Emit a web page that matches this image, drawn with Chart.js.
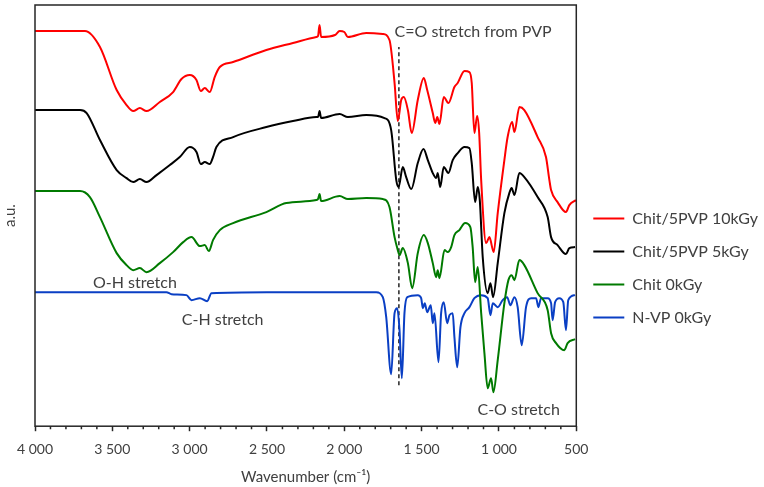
<!DOCTYPE html>
<html>
<head>
<meta charset="utf-8">
<script src="https://cdn.jsdelivr.net/npm/chart.js@4.4.1/dist/chart.umd.min.js"></script>
<style>
  html, body { margin: 0; padding: 0; background: #fff; }
</style>
</head>
<body>
<canvas id="ftirChart" width="764" height="487"></canvas>
<script>
// Series names (legend order)
const seriesNames = ['Chit/5PVP 10kGy', 'Chit/5PVP 5kGy', 'Chit 0kGy', 'N-VP 0kGy'];

// Chit/5PVP 10kGy
const redWn = [4000,3677,3580,3472,3408,3365,3322,3279,3193,3107,3053,2999,2956,2928,2902,2870,2838,2805,2719,2504,2332,2181,2170,2160,2150,2060,2030,2000,1977,1858,1751,1708,1675,1654,1632,1615,1589,1564,1525,1486,1464,1428,1412,1399,1385,1357,1327,1288,1267,1223,1191,1176,1159,1141,1128,1115,1083,1062,1034,1008,965,944,915,900,868,836,750,696,674,663,621,567,545,502];
const redVal = [395,395,379,336,321,315,318,315,324,334,347,351,346,335,338,334,349,359,364,376,383,389,390,401,389,391,395,394,389,393,392,386,343,305,326,329,316,293,326,348,336,313,303,309,302,329,323,339,343,355,354,343,293,310,293,246,183,189,174,213,266,289,304,294,319,316,289,269,246,236,224,214,221,226];

// Chit/5PVP 5kGy
const blackWn = [4000,3709,3666,3580,3472,3408,3365,3322,3279,3214,3128,3064,2999,2956,2928,2902,2870,2849,2827,2719,2504,2332,2181,2170,2160,2150,2030,1977,1858,1740,1697,1664,1649,1622,1600,1567,1525,1488,1460,1428,1406,1396,1380,1357,1327,1299,1267,1223,1191,1176,1154,1137,1124,1105,1073,1055,1038,1008,965,933,918,900,868,836,750,685,663,621,567,545,508];
const blackVal = [316,316,313,286,256,248,244,247,244,251,261,269,279,274,262,264,262,269,279,289,299,305,309,309,315,308,312,309,311,308,296,246,239,259,249,237,263,277,266,253,248,253,239,259,253,266,273,279,278,263,224,239,226,169,133,143,129,163,213,233,238,231,253,249,229,209,189,181,172,178,179];

// Chit 0kGy
const greenWn = [4000,3709,3645,3580,3472,3408,3365,3322,3279,3193,3107,3042,2988,2934,2902,2876,2849,2805,2719,2504,2375,2181,2170,2160,2150,2030,1977,1858,1751,1708,1675,1654,1643,1622,1589,1561,1525,1486,1460,1428,1406,1396,1385,1352,1331,1309,1288,1256,1219,1185,1170,1154,1137,1115,1094,1073,1051,1036,1008,965,939,918,900,868,836,750,685,663,631,578,556,508];
const greenVal = [235,235,229,209,173,161,156,158,154,163,174,184,189,180,181,175,186,196,203,214,223,226,227,232,225,230,227,228,227,219,189,176,171,178,163,138,173,191,183,163,149,156,148,176,174,179,191,196,203,199,179,144,159,113,73,38,48,34,66,123,146,151,146,166,161,133,116,93,83,76,83,87];

// N-VP 0kGy
const blueWn = [4000,3150,3117,3021,2988,2934,2887,2859,2500,1793,1751,1729,1697,1675,1658,1643,1628,1611,1593,1525,1503,1492,1480,1464,1441,1428,1417,1391,1374,1357,1335,1320,1299,1288,1270,1249,1223,1191,1159,1115,1073,1055,1040,1008,976,947,926,900,879,853,825,792,760,745,728,685,663,653,637,610,584,567,552,508];
const blueVal = [134,134,132,131,126,128,125,133,134,134,129,109,52,113,118,96,48,113,129,131,128,118,123,114,121,103,113,64,113,124,103,111,113,89,59,99,113,119,128,131,128,111,123,119,126,129,121,129,119,81,119,128,128,119,128,128,123,106,124,128,124,96,126,131];

// dashed marker for C=O band
const coWn = [1647, 1647];
const coVal = [41, 379];

// band labels
const annoText = ['C=O stretch from PVP', 'O-H stretch', 'C-H stretch', 'C-O stretch'];
const annoWn = [1675, 3625, 3051, 1139];
const annoVal = [394, 143, 106, 16];

const xTicks = { min: 500, max: 4000, major: 500, minor: 100 };
const colors = ['#ff0000', '#000000', '#007a00', '#0a3fc4'];
const textColor = '#404040';
const frameColor = '#262626';
const fontFamily = 'Lato, "Open Sans", sans-serif';

function toPoints(xs, ys) {
    return xs.map((x, i) => ({ x: x, y: ys[i] }));
}

function formatWn(v) {
    if (v >= 1000) {
        return Math.floor(v / 1000) + ' ' + String(v % 1000).padStart(3, '0');
    }
    return String(v);
}

// box round the plot + small ticks every 100
const framePlugin = {
    id: 'frame',
    afterDraw(chart) {
        const { ctx, chartArea: a, scales } = chart;
        ctx.save();
        ctx.strokeStyle = frameColor;
        ctx.lineWidth = 1.5;
        ctx.strokeRect(a.left, a.top, a.right - a.left, a.bottom - a.top);
        ctx.beginPath();
        for (let v = xTicks.min; v <= xTicks.max; v += xTicks.minor) {
            if (v % xTicks.major === 0) continue;
            const px = scales.x.getPixelForValue(v);
            ctx.moveTo(px, a.bottom);
            ctx.lineTo(px, a.bottom + 3);
        }
        ctx.stroke();
        ctx.restore();
    }
};

const annoPlugin = {
    id: 'bandLabels',
    afterDatasetsDraw(chart) {
        const { ctx, scales } = chart;
        ctx.save();
        ctx.fillStyle = textColor;
        ctx.font = '16px ' + fontFamily;
        ctx.textAlign = 'left';
        ctx.textBaseline = 'middle';
        annoText.forEach((t, i) => {
            ctx.fillText(t, scales.x.getPixelForValue(annoWn[i]), scales.y.getPixelForValue(annoVal[i]));
        });
        ctx.restore();
    }
};

const seriesData = [
    toPoints(redWn, redVal),
    toPoints(blackWn, blackVal),
    toPoints(greenWn, greenVal),
    toPoints(blueWn, blueVal)
];

const datasets = seriesData.map((pts, i) => ({
    label: seriesNames[i],
    data: pts,
    borderColor: colors[i],
    backgroundColor: colors[i],
    borderWidth: 2,
    pointRadius: 0,
    cubicInterpolationMode: 'monotone'
}));

datasets.push({
    label: 'C=O',
    data: toPoints(coWn, coVal),
    borderColor: '#000000',
    borderWidth: 1.3,
    borderDash: [4, 3],
    pointRadius: 0
});

const ctx = document.getElementById('ftirChart').getContext('2d');
const ftirChart = new Chart(ctx, {
    type: 'line',
    data: { datasets: datasets },
    options: {
        responsive: false,
        animation: false,
        layout: { padding: { top: 5, left: 0, right: -4, bottom: 0 } },
        plugins: {
            tooltip: { enabled: false },
            legend: {
                position: 'right',
                align: 'center',
                title: { display: true, text: ' ', padding: { top: 0, bottom: 32 }, font: { size: 10 } },
                labels: {
                    filter: item => item.datasetIndex < 4,
                    usePointStyle: true,
                    pointStyle: 'line',
                    pointStyleWidth: 31,
                    boxHeight: 17,
                    padding: 17,
                    color: textColor,
                    font: { family: fontFamily, size: 16 }
                }
            }
        },
        scales: {
            x: {
                type: 'linear',
                reverse: true,
                min: xTicks.min,
                max: xTicks.max,
                border: { display: false },
                grid: {
                    drawOnChartArea: false,
                    drawTicks: true,
                    tickLength: 5,
                    tickColor: frameColor,
                    tickWidth: 1.5
                },
                ticks: {
                    stepSize: xTicks.major,
                    autoSkip: false,
                    maxRotation: 0,
                    padding: 10,
                    color: textColor,
                    font: { family: fontFamily, size: 14 },
                    callback: v => formatWn(v)
                },
                title: {
                    display: true,
                    text: 'Wavenumber (cm\u207B\u00B9)',
                    color: textColor,
                    font: { family: fontFamily, size: 15 },
                    padding: { top: 0, bottom: 1 }
                }
            },
            y: {
                min: 0,
                max: 421,
                border: { display: false },
                grid: { display: false, drawTicks: false },
                ticks: { display: false },
                title: {
                    display: true,
                    text: 'a.u.',
                    color: textColor,
                    font: { family: fontFamily, size: 15 },
                    padding: { top: 1, bottom: 16 }
                }
            }
        }
    },
    plugins: [framePlugin, annoPlugin]
});
</script>
</body>
</html>
